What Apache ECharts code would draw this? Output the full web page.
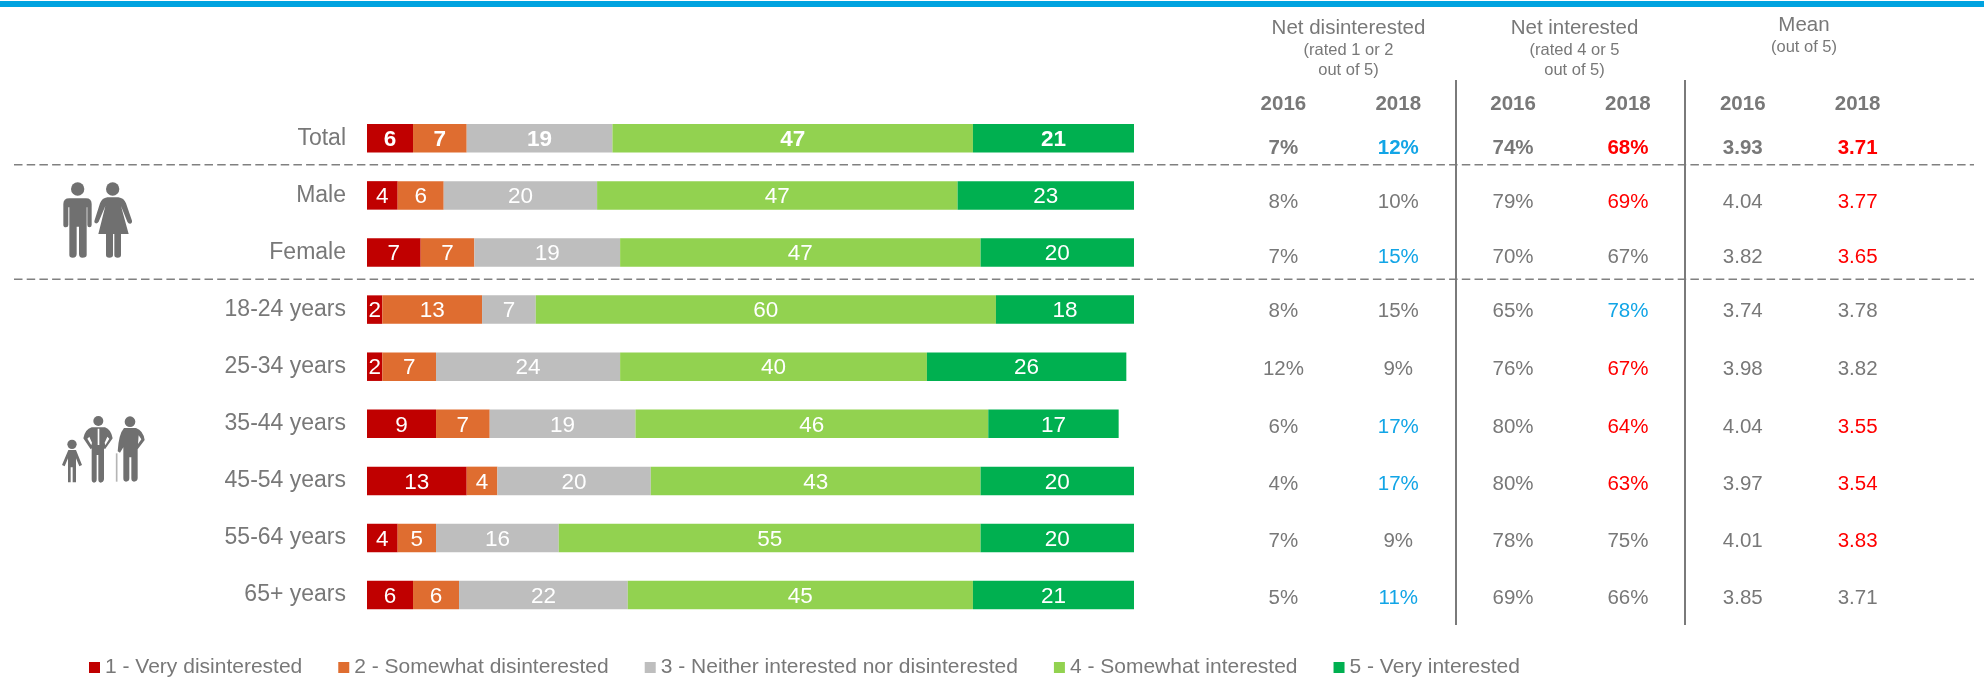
<!DOCTYPE html>
<html>
<head>
<meta charset="utf-8">
<title>Interest ratings</title>
<script src="https://cdn.jsdelivr.net/npm/echarts@6/dist/echarts.min.js"></script>
<style>html,body{margin:0;padding:0;background:#fff}#chart{width:1984px;height:680px}</style>
</head>
<body>
<div id="chart"></div>
<script>
// Survey rows, top to bottom
const rows = ['Total','Male','Female','18-24 years','25-34 years','35-44 years','45-54 years','55-64 years','65+ years'];

// Rating shares per row
const veryDisinterested     = [6,4,7,2,2,9,13,4,6];
const somewhatDisinterested = [7,6,7,13,7,7,4,5,6];
const neither               = [19,20,19,7,24,19,20,16,22];
const somewhatInterested    = [47,47,47,60,40,46,43,55,45];
const veryInterested        = [21,23,20,18,26,17,20,20,21];

const ratingNames = ['1 - Very disinterested','2 - Somewhat disinterested','3 - Neither interested nor disinterested','4 - Somewhat interested','5 - Very interested'];
const ratingColors = ['#C00000','#DF6D30','#BEBEBE','#92D250','#00B050'];

// Summary table columns
const yearLabels = ['2016','2018','2016','2018','2016','2018'];
const netDis2016 = [7,8,7,8,12,6,4,7,5];
const netDis2018 = [12,10,15,15,9,17,17,9,11];
const netInt2016 = [74,79,70,65,76,80,80,78,69];
const netInt2018 = [68,69,67,78,67,64,63,75,66];
const mean2016   = [3.93,4.04,3.82,3.74,3.98,4.04,3.97,4.01,3.85];
const mean2018   = [3.71,3.77,3.65,3.78,3.82,3.55,3.54,3.83,3.71];

// Significance flags for the 2018 columns: 1 = significantly higher, -1 = significantly lower
const netDis2018Flags = [1,0,1,0,0,1,1,0,1];
const netInt2018Flags = [-1,-1,0,1,-1,-1,-1,0,0];
const mean2018Flags   = [-1,-1,-1,0,0,-1,-1,-1,0];

const FONT = '"Liberation Sans", Arial, sans-serif';
const GREY = '#787878';
const UP = '#12A5E6';
const DOWN = '#FF0000';

const ratingValues = [veryDisinterested, somewhatDisinterested, neither, somewhatInterested, veryInterested];

const barSeries = ratingNames.map((name, s) => ({
  name, type: 'bar', stack: 'share', barWidth: 28.5,
  xAxisIndex: 0, yAxisIndex: 0,
  itemStyle: { color: ratingColors[s] },
  label: { show: true, position: 'inside', offset: [0, 1.5], color: '#fff', fontSize: 22.5, fontFamily: FONT },
  data: ratingValues[s].map((v, r) => ({
    value: v,
    label: r === 0 ? { fontWeight: 'bold' } : {}
  }))
}));

// Table columns with their text format and flags
const pct = v => v + '%';
const dec = v => v.toFixed(2);
const columns = [
  { values: netDis2016, fmt: pct }, { values: netDis2018, fmt: pct, flags: netDis2018Flags },
  { values: netInt2016, fmt: pct }, { values: netInt2018, fmt: pct, flags: netInt2018Flags },
  { values: mean2016, fmt: dec },   { values: mean2018, fmt: dec, flags: mean2018Flags }
];
// Small vertical adjustments of the table rows, in pixels
const rowNudge = [0,-2.8,-4,-6,-4.3,-2.5,-1,-0.7,0];

const tableData = [];
columns.forEach((col, c) => col.values.forEach((v, r) => {
  const flag = col.flags ? col.flags[r] : 0;
  tableData.push({
    value: [c, r],
    text: col.fmt(v),
    label: {
      color: flag > 0 ? UP : flag < 0 ? DOWN : GREY,
      fontWeight: r === 0 ? 'bold' : 'normal',
      offset: [0, rowNudge[r]]
    }
  });
}));

const tableSeries = {
  type: 'scatter', xAxisIndex: 1, yAxisIndex: 1, symbolSize: 1,
  itemStyle: { color: 'transparent' }, silent: true,
  label: { show: true, position: 'inside', opacity: 1, fontSize: 20.5, fontFamily: FONT, formatter: p => p.data.text },
  data: tableData
};

// Header text and rule lines
const headText = (text, x, y, size) => ({
  type: 'text', x, y,
  style: { text, x: 0, y: 0, align: 'center', verticalAlign: 'middle', fontSize: size, fontFamily: FONT, fill: GREY }
});
const dashed = y => ({
  type: 'line', z: 5, shape: { x1: 14, y1: y, x2: 1974, y2: y },
  style: { stroke: '#808080', lineWidth: 1.5, lineDash: [8.5, 4.2] }
});
const vertical = x => ({
  type: 'line', z: 5, shape: { x1: x, y1: 80, x2: x, y2: 625 },
  style: { stroke: '#7A7A7A', lineWidth: 2 }
});

// Pictograms, outlined at 3x and scaled down
const ICON = '#707070';
const iconShape = (name, d) => {
  echarts.graphic.registerShape(name, echarts.graphic.extendPath(d, {}));
  return name;
};
const manShape = iconShape('iconMan', 'M58 85H108Q125 85 125 102V165Q125 172 118 172Q112 172 112 165V112H110V255Q110 263 97 263Q87 263 87 252V170H80V252Q80 263 68 263Q58 263 58 255V112H55V165Q55 172 48 172Q40 172 40 165V102Q40 85 58 85Z');
const womanShape = iconShape('iconWoman', 'M172 82H205Q222 84 228 100L246 152Q247 160 240 161Q235 161 232 155L213 108L236 192H213V255Q213 263 203 263Q193 263 193 255V192H189V255Q189 263 178 263Q168 263 168 255V192H145L166 108L146 155Q142 161 137 160Q131 158 134 150L150 100Q156 84 172 82Z');
const childShape = iconShape('iconChild', 'M55 120H78L96 165L88 169L78 145V217H68V172H62V217H54V145L44 169L36 165Z');
const adultShape = iconShape('iconAdult', 'M125 52H165Q183 58 188 85L165 118L162 115V208Q160 218 152 218Q145 218 145 208V135H140V208Q140 218 132 218Q125 218 125 208V115L122 118L100 85Q105 58 125 52Z');
const adultGaps = iconShape('iconAdultGaps', 'M143 56H148V105H143ZM118 80L126 98L124 106L112 86ZM172 80L178 86L166 106L164 98Z');
const elderShape = iconShape('iconElder', 'M222 54H258Q280 62 284 90L263 118V205Q262 215 252 215Q244 215 244 205V142H238V205Q238 215 228 215Q220 215 220 205V112L210 128L203 124Q206 72 222 54Z');
const elderGap = iconShape('iconElderGap', 'M266 76L274 88L264 102Z');

const couple = {
  type: 'group', x: 50, y: 170, scaleX: 1/3, scaleY: 1/3,
  children: [
    { type: 'circle', shape: { cx: 83, cy: 57, r: 20 }, style: { fill: ICON } },
    { type: 'circle', shape: { cx: 188, cy: 57, r: 20 }, style: { fill: ICON } },
    { type: manShape, style: { fill: ICON } },
    { type: womanShape, style: { fill: ICON } }
  ]
};
const family = {
  type: 'group', x: 50, y: 410, scaleX: 1/3, scaleY: 1/3,
  children: [
    { type: 'circle', shape: { cx: 66, cy: 103, r: 14 }, style: { fill: ICON } },
    { type: childShape, style: { fill: ICON } },
    { type: 'circle', shape: { cx: 145, cy: 33, r: 15 }, style: { fill: ICON } },
    { type: adultShape, style: { fill: ICON } },
    { type: adultGaps, style: { fill: '#fff' } },
    { type: 'circle', shape: { cx: 240, cy: 35, r: 16 }, style: { fill: ICON } },
    { type: elderShape, style: { fill: ICON } },
    { type: elderGap, style: { fill: '#fff' } },
    { type: 'line', shape: { x1: 200, y1: 130, x2: 200, y2: 215 }, style: { stroke: '#B5B5B5', lineWidth: 5 } }
  ]
};

const chart = echarts.init(document.getElementById('chart'));
chart.setOption({
  animation: false,
  backgroundColor: '#fff',
  textStyle: { fontFamily: FONT },
  legend: {
    left: 84, top: 652, icon: 'rect', itemWidth: 11, itemHeight: 11, itemGap: 36,
    selectedMode: false, data: ratingNames,
    textStyle: { color: GREY, fontSize: 21, fontFamily: FONT }
  },
  grid: [
    { left: 367, top: 109.75, width: 767, height: 513.9 },
    { left: 1226, top: 120.6, width: 689, height: 505.4 }
  ],
  xAxis: [
    { type: 'value', gridIndex: 0, min: 0, max: 100, show: false },
    { type: 'category', gridIndex: 1, position: 'top', data: yearLabels,
      axisLine: { show: false }, axisTick: { show: false }, splitLine: { show: false },
      axisLabel: { interval: 0, margin: 6, color: GREY, fontSize: 20.5, fontWeight: 'bold', fontFamily: FONT } }
  ],
  yAxis: [
    { type: 'category', gridIndex: 0, inverse: true, data: rows,
      axisLine: { show: false }, axisTick: { show: false }, splitLine: { show: false },
      axisLabel: { margin: 21, padding: [2, 0, 0, 0], color: GREY, fontSize: 23, fontFamily: FONT } },
    { type: 'category', gridIndex: 1, inverse: true, data: rows, show: false }
  ],
  series: [...barSeries, tableSeries],
  graphic: [
    { type: 'rect', shape: { x: 0, y: 1, width: 1984, height: 6 }, style: { fill: '#00A3E0' } },
    headText('Net disinterested', 1348.5, 28, 20.5),
    headText('(rated 1 or 2', 1348.5, 50.7, 16.5),
    headText('out of 5)', 1348.5, 70.7, 16.5),
    headText('Net interested', 1574.5, 28, 20.5),
    headText('(rated 4 or 5', 1574.5, 50.7, 16.5),
    headText('out of 5)', 1574.5, 70.7, 16.5),
    headText('Mean', 1804, 25, 20.5),
    headText('(out of 5)', 1804, 47.7, 16.5),
    dashed(164.7), dashed(279.3),
    vertical(1456), vertical(1685),
    couple, family
  ]
});
</script>
</body>
</html>
